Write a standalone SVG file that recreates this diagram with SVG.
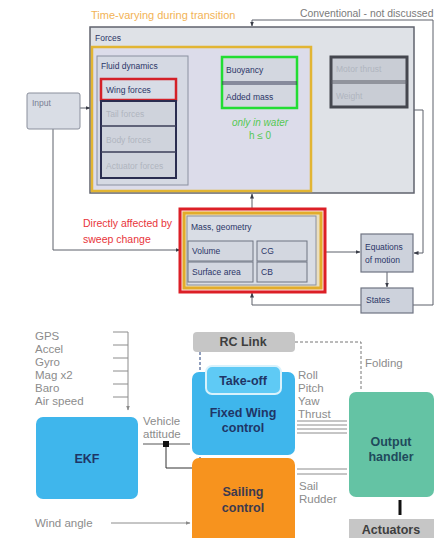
<svg xmlns="http://www.w3.org/2000/svg" width="439" height="538" viewBox="0 0 439 538">
  <defs>
    <marker id="arr" viewBox="0 0 10 10" refX="9" refY="5" markerWidth="5" markerHeight="5" orient="auto">
      <path d="M0,1 L10,5 L0,9 z" fill="#3a3d48"/>
    </marker>
    <marker id="arrG" viewBox="0 0 10 10" refX="9" refY="5" markerWidth="5" markerHeight="5" orient="auto">
      <path d="M0,1 L10,5 L0,9 z" fill="#8a8a8a"/>
    </marker>
  </defs>
  <style>
    .t { font-family: "Liberation Sans", Arial, sans-serif; }
    .s { font-size: 8.5px; fill: #2b3668; }
    .dim { font-size: 8.5px; fill: #b0b5bf; }
    .box { fill: #d9dde5; stroke: #8a8f9c; stroke-width: 1; }
    .cell { fill: #d3d7e0; stroke: #6f7482; stroke-width: 1; }
    .wire { fill: none; stroke: #5c606b; stroke-width: 1; }
    .gl { font-size: 11.5px; fill: #8c8c8c; }
    .bold { font-size: 12.5px; font-weight: bold; text-anchor: middle; }
    .sig { stroke: #8c8c8c; stroke-width: 1; }
  </style>

  <rect width="439" height="538" fill="#ffffff"/>

  <!-- connectors of the flight-dynamics model -->
  <g id="model-links">
    <!-- conventional loop from states to forces -->
    <polyline class="wire" points="413,305 433,305 433,20 252,20 252,26" marker-end="url(#arr)"/>
    <!-- input to forces -->
    <line class="wire" x1="80" y1="108" x2="90" y2="108" marker-end="url(#arr)"/>
    <!-- input to mass/geometry -->
    <polyline class="wire" points="53,129 53,250 180,250" marker-end="url(#arr)"/>
    <!-- mass/geometry up into forces -->
    <line class="wire" x1="252" y1="208" x2="252" y2="194" marker-end="url(#arr)"/>
    <!-- motor thrust / weight to equations of motion -->
    <polyline class="wire" points="407,110 423,110 423,253 414,253" marker-end="url(#arr)"/>
    <!-- mass/geometry to equations -->
    <line class="wire" x1="325" y1="252" x2="360" y2="252" marker-end="url(#arr)"/>
    <!-- equations to states -->
    <line class="wire" x1="387" y1="272" x2="387" y2="287" marker-end="url(#arr)"/>
    <!-- states back to mass/geometry -->
    <polyline class="wire" points="361,305 252,305 252,293" marker-end="url(#arr)"/>
  </g>

  <text class="t" x="91" y="19" font-size="11" fill="#f2b356">Time-varying during transition</text>
  <text class="t" x="300" y="17" font-size="10.4" fill="#7a7a7a">Conventional - not discussed</text>

  <g id="input">
    <rect class="box" x="27" y="93" width="53" height="36" rx="2"/>
    <text class="t s" x="32" y="106" style="fill:#7a8094">Input</text>
  </g>

  <g id="forces">
    <rect x="90" y="27" width="324" height="166" fill="#dfe2e7" stroke="#60636e" stroke-width="1.5"/>
    <text class="t s" x="95" y="41">Forces</text>
  </g>

  <g id="time-varying">
    <rect x="92" y="47" width="219" height="144" fill="#dcdcea" stroke="#e2b533" stroke-width="2.5"/>
  </g>

  <g id="fluid-dynamics">
    <rect x="97" y="56" width="91" height="129" fill="#d5d9e3" stroke="#8a90a0" stroke-width="1"/>
    <text class="t s" x="101" y="69">Fluid dynamics</text>
  </g>

  <g id="wing-forces">
    <rect x="101" y="79" width="75" height="21" fill="#d8dce6" stroke="#d42028" stroke-width="2.5"/>
    <text class="t s" x="106" y="93">Wing forces</text>
  </g>

  <g id="other-forces">
    <rect x="101" y="101" width="75" height="77" fill="#cfd3dc" stroke="#2a2d50" stroke-width="2"/>
    <line x1="101" y1="126" x2="176" y2="126" stroke="#3b3e58" stroke-width="1.5"/>
    <line x1="101" y1="152" x2="176" y2="152" stroke="#3b3e58" stroke-width="1.5"/>
    <text class="t dim" x="106" y="117">Tail forces</text>
    <text class="t dim" x="106" y="143">Body forces</text>
    <text class="t dim" x="106" y="169">Actuator forces</text>
  </g>

  <g id="hydro-forces">
    <rect x="222" y="57" width="75" height="51" fill="#d3d7e0" stroke="#22dd33" stroke-width="2.5"/>
    <line x1="222" y1="82" x2="297" y2="82" stroke="#3b3e58" stroke-width="1.2"/>
    <line x1="222" y1="84" x2="297" y2="84" stroke="#3b3e58" stroke-width="1.2"/>
    <text class="t s" x="226" y="73">Buoyancy</text>
    <text class="t s" x="226" y="100">Added mass</text>
    <text class="t" x="260" y="126" font-size="10" font-style="italic" fill="#55c855" text-anchor="middle">only in water</text>
    <text class="t" x="260" y="139" font-size="10" fill="#55c855" text-anchor="middle">h ≤ 0</text>
  </g>

  <g id="conventional-forces">
    <rect x="331" y="57" width="76" height="50" fill="#c9cdd5" stroke="#45474f" stroke-width="3"/>
    <line x1="331" y1="81" x2="407" y2="81" stroke="#5a5c66" stroke-width="1.2"/>
    <line x1="331" y1="83" x2="407" y2="83" stroke="#5a5c66" stroke-width="1.2"/>
    <text class="t dim" x="336" y="72">Motor thrust</text>
    <text class="t dim" x="336" y="99">Weight</text>
  </g>

  <text class="t" x="83" y="227" font-size="10.5" fill="#e8343a">Directly affected by</text>
  <text class="t" x="83" y="243" font-size="10.5" fill="#e8343a">sweep change</text>

  <g id="mass-geometry">
    <rect x="180" y="209" width="145" height="83" fill="#fbe2e2" stroke="#dc1f26" stroke-width="3"/>
    <rect x="184" y="213" width="137" height="75" fill="#eadfc0" stroke="#e2ac2a" stroke-width="3"/>
    <rect x="187" y="216" width="129" height="69" fill="#d9dde5" stroke="#8a8f9c" stroke-width="1"/>
    <text class="t s" x="191" y="230">Mass, geometry</text>
    <rect class="cell" x="188" y="241" width="65" height="20"/>
    <rect class="cell" x="257" y="241" width="50" height="20"/>
    <rect class="cell" x="188" y="262" width="65" height="20"/>
    <rect class="cell" x="257" y="262" width="50" height="20"/>
    <text class="t s" x="192" y="254">Volume</text>
    <text class="t s" x="261" y="254">CG</text>
    <text class="t s" x="192" y="275">Surface area</text>
    <text class="t s" x="261" y="275">CB</text>
  </g>

  <g id="equations-of-motion">
    <rect x="361" y="234" width="52" height="38" fill="#cdd2dc" stroke="#6f7482" stroke-width="1.2"/>
    <text class="t s" x="365" y="250">Equations</text>
    <text class="t s" x="365" y="263">of motion</text>
  </g>

  <g id="states">
    <rect x="361" y="288" width="52" height="25" fill="#cdd2dc" stroke="#6f7482" stroke-width="1.2"/>
    <text class="t s" x="366" y="303">States</text>
  </g>

  <!-- connectors of the control architecture -->
  <g id="control-links">
    <!-- sensor inputs into the EKF -->
    <line class="sig" x1="128" y1="332" x2="128" y2="410" marker-end="url(#arrG)"/>
    <line class="sig" x1="113" y1="332" x2="128" y2="332"/>
    <line class="sig" x1="113" y1="345" x2="128" y2="345"/>
    <line class="sig" x1="113" y1="358" x2="128" y2="358"/>
    <line class="sig" x1="113" y1="371" x2="128" y2="371"/>
    <line class="sig" x1="113" y1="384" x2="128" y2="384"/>
    <line class="sig" x1="113" y1="397" x2="128" y2="397"/>
    <!-- vehicle attitude -->
    <line x1="143" y1="444" x2="190" y2="444" stroke="#555" stroke-width="1"/>
    <polyline points="166,444 166,468 197,468" fill="none" stroke="#333" stroke-width="1"/>
    <rect x="163" y="441" width="6" height="6" fill="#111"/>
    <!-- RC link mode switch -->
    <line x1="200" y1="352" x2="200" y2="467" stroke="#1e3d7a" stroke-width="1" stroke-dasharray="3,2"/>
    <circle cx="200" cy="378" r="2.6" fill="#1e3d7a"/>
    <circle cx="200" cy="467" r="2.6" fill="#7a1a1a"/>
    <!-- folding -->
    <polyline points="295,342 361,342 361,391" fill="none" stroke="#777" stroke-width="1" stroke-dasharray="3,2"/>
    <!-- fixed wing outputs -->
    <line class="sig" x1="297" y1="421" x2="347" y2="421"/>
    <line class="sig" x1="297" y1="425" x2="347" y2="425"/>
    <line class="sig" x1="297" y1="429" x2="347" y2="429"/>
    <line class="sig" x1="297" y1="433" x2="347" y2="433"/>
    <!-- sailing outputs -->
    <line class="sig" x1="297" y1="469" x2="347" y2="469"/>
    <line class="sig" x1="297" y1="474" x2="347" y2="474"/>
    <!-- output handler to actuators -->
    <line x1="400" y1="500" x2="400" y2="515" stroke="#111" stroke-width="3"/>
    <!-- wind angle -->
    <line class="sig" x1="111" y1="523" x2="190" y2="523" marker-end="url(#arrG)"/>
  </g>

  <g id="sensors" class="t gl">
    <text x="35" y="340">GPS</text>
    <text x="35" y="353">Accel</text>
    <text x="35" y="366">Gyro</text>
    <text x="35" y="379">Mag x2</text>
    <text x="35" y="392">Baro</text>
    <text x="35" y="405">Air speed</text>
  </g>

  <g id="ekf">
    <rect x="36" y="417" width="102" height="82" rx="7" fill="#3fb6ec"/>
    <text class="t bold" x="87" y="463" fill="#1f3566">EKF</text>
  </g>

  <text class="t gl" x="143" y="425">Vehicle</text>
  <text class="t gl" x="143" y="438">attitude</text>

  <g id="rc-link">
    <rect x="193" y="332" width="102" height="20" rx="4" fill="#c6c6c6"/>
    <text class="t bold" x="243" y="346" fill="#3e3e3e">RC Link</text>
  </g>

  <g id="fixed-wing-control">
    <rect x="192" y="372" width="103" height="83" rx="7" fill="#3fb6ec"/>
    <text class="t bold" x="243" y="417" fill="#1f3566">Fixed Wing</text>
    <text class="t bold" x="243" y="432" fill="#1f3566">control</text>
  </g>

  <g id="take-off">
    <rect x="206" y="366" width="75" height="28" rx="6" fill="#5fcaf5" stroke="#d8f2fc" stroke-width="2"/>
    <text class="t bold" x="243" y="385" fill="#1f3566">Take-off</text>
  </g>

  <g id="sailing-control">
    <rect x="192" y="458" width="103" height="86" rx="7" fill="#f7931e"/>
    <text class="t bold" x="243" y="496" fill="#3d3a4e">Sailing</text>
    <text class="t bold" x="243" y="512" fill="#3d3a4e">control</text>
  </g>

  <g class="t gl">
    <text x="298" y="379">Roll</text>
    <text x="298" y="392">Pitch</text>
    <text x="298" y="405">Yaw</text>
    <text x="298" y="418">Thrust</text>
    <text x="299" y="490">Sail</text>
    <text x="299" y="503">Rudder</text>
    <text x="365" y="367">Folding</text>
    <text x="35" y="527">Wind angle</text>
  </g>

  <g id="output-handler">
    <rect x="349" y="392" width="85" height="105" rx="7" fill="#64c3a4"/>
    <text class="t bold" x="391" y="446" fill="#1f4a5c">Output</text>
    <text class="t bold" x="391" y="461" fill="#1f4a5c">handler</text>
  </g>

  <g id="actuators">
    <rect x="349" y="519" width="85" height="22" fill="#c6c6c6"/>
    <text class="t bold" x="391" y="534" fill="#3e3e3e">Actuators</text>
  </g>
</svg>
